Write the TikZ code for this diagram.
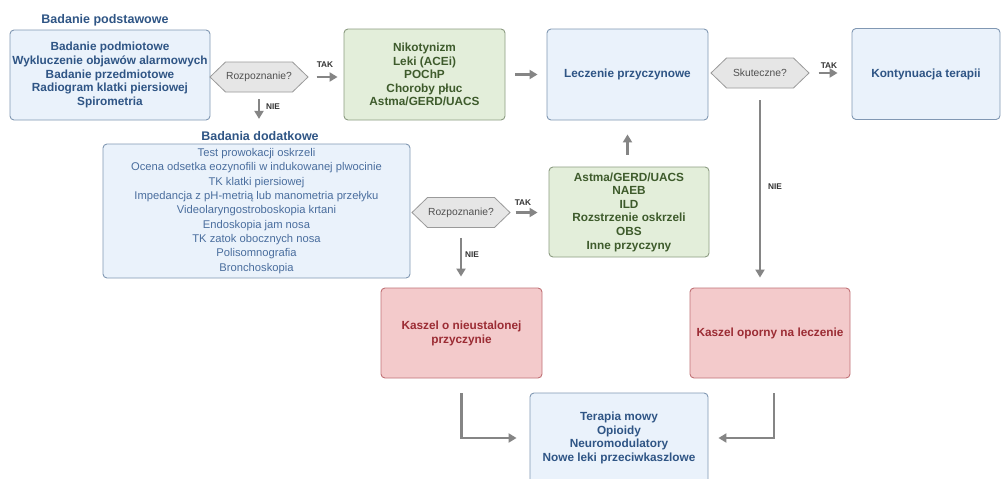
\documentclass[tikz,border=0pt]{standalone}
\usepackage{fontspec}
\setmainfont{Liberation Sans}
\usetikzlibrary{arrows.meta,shapes.symbols}
\definecolor{bluefill}{HTML}{EAF2FB}
\definecolor{blueline}{HTML}{8198B3}
\definecolor{bluetext}{HTML}{2F5585}
\definecolor{bluetext2}{HTML}{4A6E9E}
\definecolor{greenfill}{HTML}{E3EEDA}
\definecolor{greenline}{HTML}{8C9C82}
\definecolor{greentext}{HTML}{3E5B2C}
\definecolor{redfill}{HTML}{F3CACB}
\definecolor{redline}{HTML}{C07276}
\definecolor{redtext}{HTML}{9B2C34}
\definecolor{hexfill}{HTML}{E6E6E6}
\definecolor{hexline}{HTML}{9A9A9A}
\definecolor{hextext}{HTML}{505050}
\definecolor{arrowgray}{HTML}{858585}
\begin{document}
\begin{tikzpicture}[x=1pt,y=-1pt,
  box/.style={draw, line width=0.9pt, rounded corners=4pt, align=center, inner sep=0pt},
  bluebox/.style={box, draw=blueline, fill=bluefill, text=bluetext, font=\fontsize{11.8}{13.8}\selectfont\bfseries},
  greenbox/.style={box, draw=greenline, fill=greenfill, text=greentext, font=\fontsize{11.8}{13.6}\selectfont\bfseries},
  redbox/.style={box, draw=redline, fill=redfill, text=redtext, font=\fontsize{11.8}{14}\selectfont\bfseries},
  hexa/.style={shape=signal, signal to=west and east, signal pointer angle=88, draw=hexline, fill=hexfill, line width=0.8pt, minimum width=98, minimum height=30, inner sep=0pt, text=hextext, font=\fontsize{10.3}{11}\selectfont},
  title/.style={text=bluetext, font=\fontsize{12.5}{14}\selectfont\bfseries},
  lbl/.style={text=black!80, font=\fontsize{8.3}{9}\selectfont\bfseries},
  arr/.style={draw=arrowgray, line width=2.2pt, -{Triangle[length=8pt,width=9pt]}}
]
\clip (0,0) rectangle (1001,479);
\useasboundingbox (0,0) rectangle (1001,479);
\fill[white] (0,0) rectangle (1001,479);

% titles
\node[title] (t1) at (105,20) {Badanie podstawowe};
\node[title] (t2) at (260,136) {Badania dodatkowe};

% boxes
\node[bluebox, minimum width=200, minimum height=90] (basic) at (110,75)
  {Badanie podmiotowe\\Wykluczenie objawów alarmowych\\Badanie przedmiotowe\\Radiogram klatki piersiowej\\Spirometria};
\node[greenbox, minimum width=161, minimum height=91] (g1) at (424.5,74.5)
  {Nikotynizm\\Leki (ACEi)\\POChP\\Choroby płuc\\Astma/GERD/UACS};
\node[bluebox, minimum width=161, minimum height=91] (lecz) at (627.5,74.5)
  {Leczenie przyczynowe};
\node[bluebox, minimum width=148, minimum height=91] (kont) at (926,74)
  {Kontynuacja terapii};
\node[bluebox, font=\fontsize{11.2}{14.3}\selectfont, text=bluetext2, minimum width=307, minimum height=134] (extra) at (256.5,211)
  {Test prowokacji oskrzeli\\Ocena odsetka eozynofili w indukowanej plwocinie\\TK klatki piersiowej\\Impedancja z pH-metrią lub manometria przełyku\\Videolaryngostroboskopia krtani\\Endoskopia jam nosa\\TK zatok obocznych nosa\\Polisomnografia\\Bronchoskopia};
\node[greenbox, minimum width=160, minimum height=90] (g2) at (629,212)
  {Astma/GERD/UACS\\NAEB\\ILD\\Rozstrzenie oskrzeli\\OBS\\Inne przyczyny};
\node[redbox, minimum width=161, minimum height=90] (r1) at (461.5,333)
  {Kaszel o nieustalonej\\przyczynie};
\node[redbox, minimum width=160, minimum height=90] (r2) at (770,333)
  {Kaszel oporny na leczenie};
\node[bluebox, minimum width=178, minimum height=90] (bot) at (619,438)
  {Terapia mowy\\Opioidy\\Neuromodulatory\\Nowe leki przeciwkaszlowe};

% decisions
\node[hexa] (h1) at (259,77) {Rozpoznanie?};
\node[hexa] (h2) at (461,212.5) {Rozpoznanie?};
\node[hexa] (h3) at (760,73) {Skuteczne?};

% arrows
\draw[arr, shorten <=8pt, shorten >=6pt] (h1.east) -- (h1.east -| g1.west);
\node[lbl] (tak1) at (325,65) {TAK};
\draw[arr, shorten <=7pt, shorten >=9pt] (h1.south) -- (h1.south |- t2.north);
\node[lbl] (nie1) at (273,107) {NIE};
\draw[arr, shorten <=10pt, shorten >=9pt] (g1.east) -- (lecz.west);
\draw[arr, shorten <=9pt, shorten >=14pt] (h3.east) -- (h3.east -| kont.west);
\node[lbl] (tak3) at (829,66) {TAK};
\draw[arr, shorten <=12pt, shorten >=10pt] (h3.south) -- (h3.south |- r2.north);
\node[lbl] (nie3) at (775,187) {NIE};
\draw[arr, shorten <=5pt, shorten >=11pt] (h2.east) -- (h2.east -| g2.west);
\node[lbl] (tak2) at (523,203) {TAK};
\draw[arr, shorten <=10pt, shorten >=11pt] (h2.south) -- (h2.south |- r1.north);
\node[lbl] (nie2) at (472,255) {NIE};
\draw[arr, shorten <=12pt, shorten >=14pt] (lecz.south |- g2.north) -- (lecz.south);
\draw[arr, shorten >=13pt] ([yshift=-15pt]r1.south) |- (bot.west);
\draw[arr, shorten >=10pt] ([xshift=4pt,yshift=-15pt]r2.south) |- (bot.east);
\end{tikzpicture}
\end{document}
